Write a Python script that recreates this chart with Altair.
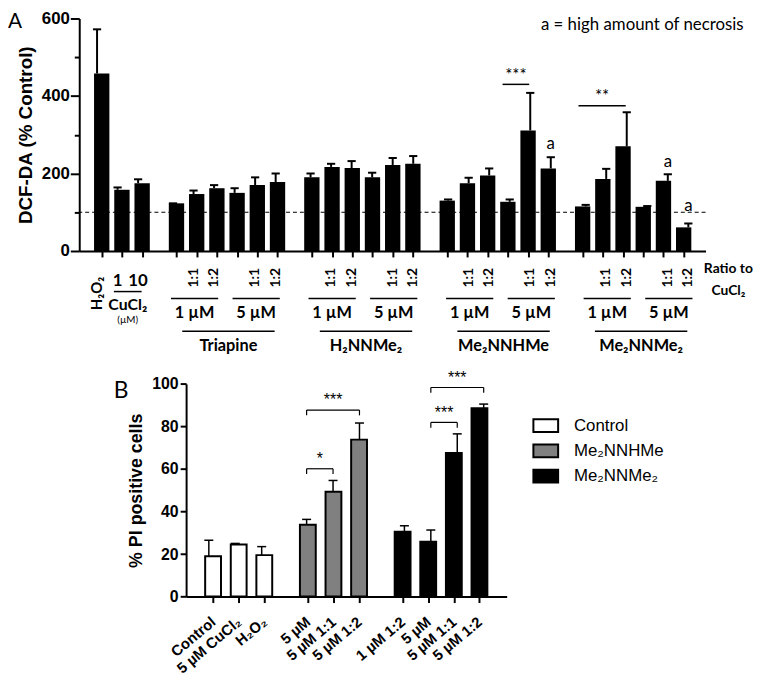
import altair as alt
import pandas as pd

# ---------------- Panel A data ----------------
a_compounds = ["Triapine", "H₂NNMe₂", "Me₂NNHMe", "Me₂NNMe₂"]
a_conc_labels = ["1 µM", "5 µM"]
a_bar_group = [0] * 3 + [1] * 6 + [2] * 6 + [3] * 6 + [4] * 6
a_tick_labels = ["H₂O₂", "1", "10"] + ["", "1:1", "1:2"] * 8
a_values = [458, 158, 175,
            123, 147, 162, 150, 170, 178,
            190, 217, 214, 190, 222, 225,
            130, 175, 195, 127, 311, 213,
            115, 186, 270, 114, 181, 61]
a_sem = [114, 6, 10,
         0, 9, 8, 12, 20, 22,
         10, 8, 18, 12, 18, 20,
         3, 14, 18, 6, 97, 29,
         4, 26, 88, 2, 17, 10]
a_necrosis_bars = [20, 25, 26]
a_necrosis_y = [275, 230, 115]
a_sig_from = [18, 21]
a_sig_to = [19, 23]
a_sig_y = [430, 375]
a_sig_text = ["***", "**"]
a_sig_text_y = [452, 397]

# ---------------- Panel B data ----------------
b_series_names = ["Control", "Me₂NNHMe", "Me₂NNMe₂"]
b_bar_series = [0, 0, 0, 1, 1, 1, 2, 2, 2, 2]
b_tick_labels = ["Control", "5 µM CuCl₂", "H₂O₂", "5 µM", "5 µM 1:1", "5 µM 1:2",
                 "1 µM 1:2", "5 µM", "5 µM 1:1", "5 µM 1:2"]
b_values = [19, 24.5, 19.5, 33.8, 49.3, 73.8, 30.5, 25.8, 67.5, 88.5]
b_sem = [7.5, 0.5, 4, 2.5, 5.3, 7.8, 2.8, 5.5, 9, 2]
b_sig_from = [3, 3, 7, 7]
b_sig_to = [4, 5, 8, 9]
b_sig_y = [60.1, 87.7, 81.9, 98.3]
b_sig_text = ["*", "***", "***", "***"]

# ---------------- derived tables ----------------
a_slots = [round(i + g * 0.7, 2) for i, g in enumerate(a_bar_group)]
b_slots = [round(i + g * 0.7, 2) for i, g in enumerate(b_bar_series)]

dfA = pd.DataFrame({
    "slot": a_slots, "value": a_values,
    "top": [v + e for v, e in zip(a_values, a_sem)],
    "cl": [s - 0.2 for s in a_slots], "cr": [s + 0.2 for s in a_slots],
    "label": a_tick_labels,
})
dfB = pd.DataFrame({
    "slot": b_slots, "value": b_values,
    "top": [v + e for v, e in zip(b_values, b_sem)],
    "cl": [s - 0.17 for s in b_slots], "cr": [s + 0.17 for s in b_slots],
    "series": [b_series_names[k] for k in b_bar_series],
})

W, H = 633, 235
xA = alt.Scale(domain=[-0.8675, 29.639], nice=False, zero=False)
yA = alt.Scale(domain=[0, 600], nice=False)
xB = alt.Scale(domain=[-0.86, 11.27], range=[108, 432], nice=False, zero=False)
yB = alt.Scale(domain=[0, 100], range=[584.3, 369.3], nice=False)

ARIAL = "Liberation Sans"
CAL = "Lato"

def XA(f="slot"):
    return alt.X(f"{f}:Q", scale=xA, axis=None)

def YA(f="value"):
    return alt.Y(f"{f}:Q", scale=yA, axis=None)

def XB(f="slot"):
    return alt.X(f"{f}:Q", scale=xB, axis=None)

def YB(f="value"):
    return alt.Y(f"{f}:Q", scale=yB, axis=None)

layers = []

# ---- Panel A bars with axes ----
axA_x = alt.Axis(values=a_slots, labels=False, tickSize=6, tickWidth=2, domainWidth=2,
                 title=None, grid=False)
axA_y = alt.Axis(values=[0, 100, 200, 300, 400, 500, 600],
                 labelExpr="datum.value % 200 == 0 ? datum.label : ''",
                 tickSize={"condition": {"test": "datum.value % 200 == 0", "value": 9}, "value": 5},
                 tickWidth=2, domainWidth=2, grid=False,
                 labelFont=ARIAL, labelFontWeight="bold", labelFontSize=17, labelPadding=1,
                 title="DCF-DA (% Control)", titleFont=ARIAL, titleFontWeight="bold",
                 titleFontSize=19, titlePadding=6)
layers.append(alt.Chart(dfA).mark_bar(size=15.5, color="black").encode(
    x=alt.X("slot:Q", scale=xA, axis=axA_x),
    y=alt.Y("value:Q", scale=yA, axis=axA_y)))
layers.append(alt.Chart(dfA).mark_rule(strokeWidth=2, color="black").encode(
    x=XA(), y=YA(), y2="top:Q"))
layers.append(alt.Chart(dfA).mark_rule(strokeWidth=2, color="black").encode(
    x=XA("cl"), x2="cr:Q", y=YA("top")))
layers.append(alt.Chart(pd.DataFrame({"v": [100]})).mark_rule(
    strokeDash=[4, 3], strokeWidth=1.2, color="black").encode(y=YA("v")))

# significance A
dfAsig = pd.DataFrame({
    "x1": [a_slots[i] - 0.35 for i in a_sig_from],
    "x2": [a_slots[j] - 0.05 for j in a_sig_to],
    "y": a_sig_y, "t": a_sig_text, "ty": a_sig_text_y,
})
dfAsig["xm"] = (dfAsig["x1"] + dfAsig["x2"]) / 2
layers.append(alt.Chart(dfAsig).mark_rule(strokeWidth=1.5, color="black").encode(
    x=XA("x1"), x2="x2:Q", y=YA("y")))
layers.append(alt.Chart(dfAsig).mark_text(font=CAL, fontSize=17, color="black").encode(
    x=XA("xm"), y=YA("ty"), text="t:N"))

# necrosis marks
dfAn = pd.DataFrame({"slot": [a_slots[i] for i in a_necrosis_bars], "y": a_necrosis_y, "t": ["a"] * 3})
layers.append(alt.Chart(dfAn).mark_text(font=CAL, fontSize=17, color="black").encode(
    x=XA(), y=YA("y"), text="t:N"))

# ---- Panel A categorical annotations below the axis ----
ratio_df = dfA[dfA["label"].str.contains(":")]
layers.append(alt.Chart(ratio_df).mark_text(font=CAL, fontWeight="bold", fontSize=14, angle=270,
                                             color="black").encode(
    x=XA(), y=alt.value(262), text="label:N"))
layers.append(alt.Chart(dfA.iloc[[0]]).mark_text(font=CAL, fontWeight="bold", fontSize=15, angle=270,
                                                  color="black").encode(
    x=XA(), y=alt.value(278), text="label:N"))
layers.append(alt.Chart(dfA.iloc[[1, 2]]).mark_text(font=CAL, fontWeight="bold", fontSize=17,
                                                     color="black").encode(
    x=XA(), y=alt.value(265), text="label:N"))
cu_df = pd.DataFrame({"x1": [a_slots[1] - 0.18], "x2": [a_slots[2] + 0.17]})
cu_df["xm"] = (cu_df["x1"] + cu_df["x2"]) / 2
layers.append(alt.Chart(cu_df).mark_rule(strokeWidth=1.5, color="black").encode(
    x=XA("x1"), x2="x2:Q", y=alt.value(276)))
layers.append(alt.Chart(cu_df.assign(t="CuCl₂")).mark_text(font=CAL, fontWeight="bold", fontSize=16,
                                                            color="black").encode(
    x=XA("xm"), y=alt.value(290), text="t:N"))
layers.append(alt.Chart(cu_df.assign(t="(µM)")).mark_text(font=CAL, fontSize=10,
                                                           color="black").encode(
    x=XA("xm"), y=alt.value(305), text="t:N"))

conc_rows = []
comp_rows = []
for g, name in enumerate(a_compounds, start=1):
    idx = [i for i, gg in enumerate(a_bar_group) if gg == g]
    for k, lab in enumerate(a_conc_labels):
        sub = idx[3 * k:3 * k + 3]
        conc_rows.append({"x1": a_slots[sub[0]] - 0.1, "x2": a_slots[sub[-1]] + 0.2, "t": lab})
    comp_rows.append({"x1": a_slots[idx[0]] + 0.45, "x2": a_slots[idx[-1]] - 0.05, "t": name})
conc_df = pd.DataFrame(conc_rows)
conc_df["xm"] = (conc_df["x1"] + conc_df["x2"]) / 2
comp_df = pd.DataFrame(comp_rows)
comp_df["xm"] = (comp_df["x1"] + comp_df["x2"]) / 2
layers.append(alt.Chart(conc_df).mark_rule(strokeWidth=1.5, color="black").encode(
    x=XA("x1"), x2="x2:Q", y=alt.value(283)))
layers.append(alt.Chart(conc_df).mark_text(font=CAL, fontWeight="bold", fontSize=16.5,
                                           color="black").encode(
    x=XA("xm"), y=alt.value(298), text="t:N"))
layers.append(alt.Chart(comp_df).mark_rule(strokeWidth=1.5, color="black").encode(
    x=XA("x1"), x2="x2:Q", y=alt.value(316)))
layers.append(alt.Chart(comp_df).mark_text(font=CAL, fontWeight="bold", fontSize=16.5,
                                           color="black").encode(
    x=XA("xm"), y=alt.value(331), text="t:N"))
ratio_note = pd.DataFrame({"slot": [30.75, 30.75], "t": ["Ratio to", "CuCl₂"], "py": [253, 275]})
layers.append(alt.Chart(ratio_note).mark_text(font=CAL, fontWeight="bold", fontSize=14,
                                              color="black").encode(
    x=XA(), y=alt.Y("py:Q", scale=None, axis=None), text="t:N"))

# ---- Panel B ----
axB_x = alt.Axis(values=b_slots, orient="bottom", offset=349.3,
                 labelExpr="%s[indexof(%s, datum.value)]" % (
                     "[" + ",".join("'%s'" % s for s in b_tick_labels) + "]",
                     "[" + ",".join(str(s) for s in b_slots) + "]"),
                 labelAngle=-40, labelAlign="right", labelBaseline="middle", labelPadding=17,
                 labelOverlap=False, labelFlush=False,
                 labelFont=ARIAL, labelFontWeight="bold", labelFontSize=15,
                 tickSize=6, tickWidth=2, domainWidth=2, title=None, grid=False)
axB_y = alt.Axis(values=[0, 20, 40, 60, 80, 100], orient="left", offset=-108,
                 tickSize=6, tickWidth=2, domainWidth=2, grid=False,
                 labelFont=ARIAL, labelFontWeight="bold", labelFontSize=16, labelPadding=2,
                 title="% PI positive cells", titleFont=ARIAL, titleFontWeight="bold",
                 titleFontSize=18, titlePadding=6)
legB = alt.Legend(orient="none", legendX=458, legendY=398, title=None,
                  symbolType="M-1,-0.52H1V0.52H-1Z", symbolSize=625,
                  symbolStrokeColor="black", symbolStrokeWidth=2, symbolOpacity=1,
                  labelFont=ARIAL, labelFontSize=17, labelColor="black", labelOffset=15,
                  rowPadding=1.5, padding=0)
layers.append(alt.Chart(dfB).mark_bar(size=16, stroke="black", strokeWidth=2).encode(
    x=alt.X("slot:Q", scale=xB, axis=axB_x),
    y=alt.Y("value:Q", scale=yB, axis=axB_y),
    fill=alt.Fill("series:N", scale=alt.Scale(domain=b_series_names,
                                               range=["white", "#808080", "black"]),
                  legend=legB)))
layers.append(alt.Chart(dfB).mark_rule(strokeWidth=1.5, color="black").encode(
    x=XB(), y=YB(), y2="top:Q"))
layers.append(alt.Chart(dfB).mark_rule(strokeWidth=1.5, color="black").encode(
    x=XB("cl"), x2="cr:Q", y=YB("top")))

dfBsig = pd.DataFrame({
    "x1": [b_slots[i] for i in b_sig_from],
    "x2": [b_slots[j] for j in b_sig_to],
    "y": b_sig_y, "t": b_sig_text,
})
dfBsig["yl"] = dfBsig["y"] - 2.5
dfBsig["ty"] = dfBsig["y"] + 4.5
dfBsig["xm"] = (dfBsig["x1"] + dfBsig["x2"]) / 2
layers.append(alt.Chart(dfBsig).mark_rule(strokeWidth=1.2, color="black").encode(
    x=XB("x1"), x2="x2:Q", y=YB("y")))
layers.append(alt.Chart(dfBsig).mark_rule(strokeWidth=1.2, color="black").encode(
    x=XB("x1"), y=YB("yl"), y2="y:Q"))
layers.append(alt.Chart(dfBsig).mark_rule(strokeWidth=1.2, color="black").encode(
    x=XB("x2"), y=YB("yl"), y2="y:Q"))
layers.append(alt.Chart(dfBsig).mark_text(font=ARIAL, fontSize=16, color="black").encode(
    x=XB("xm"), y=YB("ty"), text="t:N"))

# ---- panel letters & note ----
layers.append(alt.Chart(pd.DataFrame({"t": ["A"]})).mark_text(
    font=CAL, fontSize=21, align="left", baseline="top", color="black").encode(
    x=alt.value(-72), y=alt.value(-7), text="t:N"))
layers.append(alt.Chart(pd.DataFrame({"t": ["B"]})).mark_text(
    font=CAL, fontSize=23, align="left", color="black").encode(
    x=alt.value(35), y=alt.value(377), text="t:N"))
layers.append(alt.Chart(pd.DataFrame({"t": ["a = high amount of necrosis"]})).mark_text(
    font=CAL, fontSize=17, color="black").encode(
    x=alt.value(569), y=alt.value(7), text="t:N"))

chart = alt.layer(*layers).resolve_scale(
    x="independent", y="independent"
).properties(
    width=W, height=H,
    autosize=alt.AutoSizeParams(type="none"),
    padding={"left": 72, "top": 7, "right": 53, "bottom": 431},
).configure_view(stroke=None).configure_axis(
    domainColor="black", tickColor="black", labelColor="black", titleColor="black"
)

chart.save("out.html", embed_options={"renderer": "svg", "actions": False})
